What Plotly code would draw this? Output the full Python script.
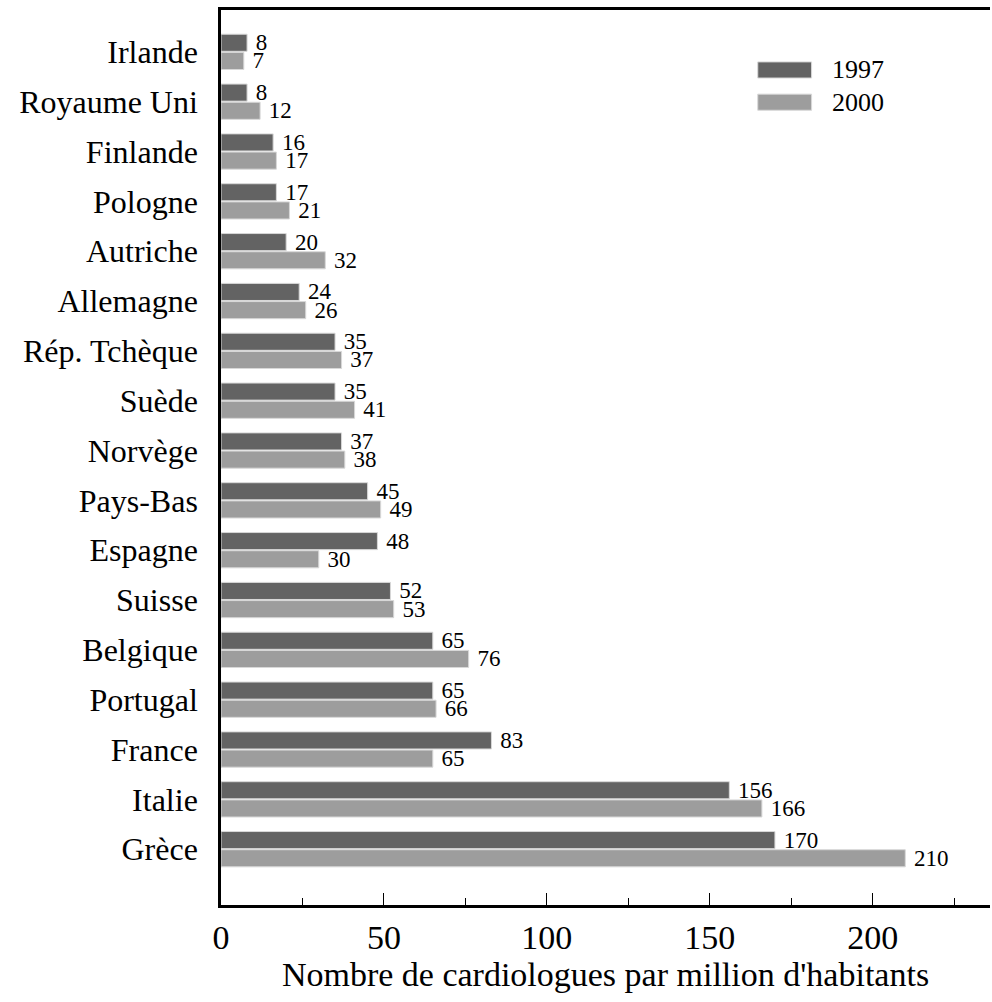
import plotly.graph_objects as go

countries = ["Irlande", "Royaume Uni", "Finlande", "Pologne", "Autriche", "Allemagne",
             "Rép. Tchèque", "Suède", "Norvège", "Pays-Bas", "Espagne", "Suisse",
             "Belgique", "Portugal", "France", "Italie", "Grèce"]
v1997 = [8, 8, 16, 17, 20, 24, 35, 35, 37, 45, 48, 52, 65, 65, 83, 156, 170]
v2000 = [7, 12, 17, 21, 32, 26, 37, 41, 38, 49, 30, 53, 76, 66, 65, 166, 210]
series_names = ["1997", "2000"]
colors = ["#636363", "#9d9d9d"]
x_title = "Nombre de cardiologues par million d'habitants"

FONT = "Liberation Serif, Times New Roman, serif"

fig = go.Figure()
for name, vals, col in zip(series_names, [v1997, v2000], colors):
    fig.add_trace(go.Bar(
        y=countries, x=vals, name=name, orientation="h",
        marker=dict(color=col, line=dict(color="#d8d8d8", width=1)),
        text=vals, texttemplate="\u00a0%{x}", textposition="outside", cliponaxis=False,
        constraintext="none",
        textfont=dict(family=FONT, size=23, color="black"),
        showlegend=False,
    ))

fig.update_layout(
    width=992, height=1002,
    margin=dict(l=221, r=2, t=10, b=97),
    paper_bgcolor="white", plot_bgcolor="white",
    barmode="group", bargap=0.27, bargroupgap=0.06,
    font=dict(family=FONT, color="black"),
)
fig.update_xaxes(
    range=[0, 236], showgrid=False, zeroline=False,
    showline=True, linecolor="black", linewidth=2.5, mirror=True,
    ticks="inside", ticklen=12, tickwidth=1.2, tickcolor="black",
    tickmode="linear", tick0=0, dtick=50,
    minor=dict(ticks="inside", ticklen=7, tickwidth=1.2, tickcolor="black",
               tickmode="linear", tick0=0, dtick=25),
    tickfont=dict(size=34, family=FONT),
    title=dict(text=x_title, font=dict(size=34, family=FONT), standoff=8),
)
fig.update_yaxes(
    categoryorder="array", categoryarray=countries,
    range=[17.12, -0.84], showgrid=False, zeroline=False,
    showline=True, linecolor="black", linewidth=2.5, ticks="",
    ticklabelstandoff=14,
    tickfont=dict(size=32, family=FONT),
)

# legend drawn in paper coordinates
legend_rows = [(0.942, 0.924), (0.906, 0.888)]
for (y1, y0), name, col in zip(legend_rows, series_names, colors):
    fig.add_shape(type="rect", xref="paper", yref="paper",
                  x0=0.698, x1=0.768, y0=y0, y1=y1,
                  fillcolor=col, line=dict(color="#d8d8d8", width=1))
    fig.add_annotation(xref="paper", yref="paper", x=0.792, y=(y0 + y1) / 2,
                       text=name, showarrow=False, xanchor="left", yanchor="middle",
                       font=dict(size=26, family=FONT, color="black"))

fig.write_html("out.html", config={"displayModeBar": False},
               post_script="document.body.style.margin='0px';")
